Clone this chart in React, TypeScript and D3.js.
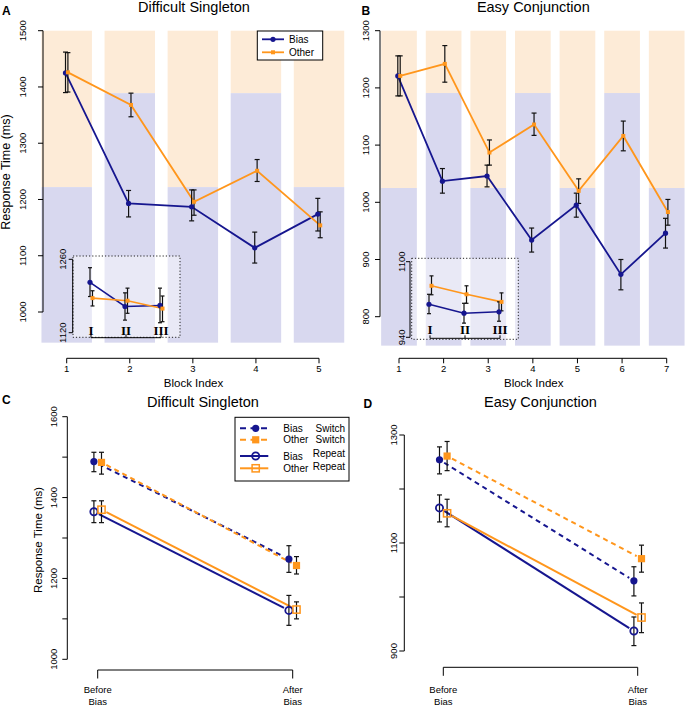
import React from "react";
import * as d3 from "d3";

const FONT = "'Liberation Sans', Arial, Helvetica, sans-serif";
const SERIF = "'Liberation Serif', 'Times New Roman', serif";
const NAVY = "#16168f";
const ORANGE = "#ff961c";
const BAND_O = "#fdebd7";
const BAND_B = "#d8d8ef";

// ---------- Panel A (Difficult Singleton, by block) ----------
const blocksA = [1, 2, 3, 4, 5];
const biasA = [1425, 1193, 1187, 1114, 1174];
const biasALo = [1390, 1169, 1162, 1087, 1144];
const biasAHi = [1462, 1216, 1217, 1142, 1202];
const otherA = [1426, 1368, 1196, 1251, 1154];
const otherALo = [1391, 1347, 1172, 1232, 1132];
const otherAHi = [1461, 1389, 1217, 1271, 1178];
const splitA = [1222, 1389, 1222, 1389, 1222];
const yTicksA = [1000, 1100, 1200, 1300, 1400, 1500];

// ---------- Panel B (Easy Conjunction, by block) ----------
const blocksB = [1, 2, 3, 4, 5, 6, 7];
const biasB = [1221, 1037, 1046, 934, 995, 874, 946];
const biasBLo = [1186, 1016, 1027, 913, 974, 847, 920];
const biasBHi = [1256, 1059, 1065, 955, 1016, 900, 972];
const otherB = [1221, 1242, 1087, 1136, 1020, 1116, 983];
const otherBLo = [1186, 1210, 1065, 1117, 998, 1090, 960];
const otherBHi = [1256, 1274, 1109, 1156, 1041, 1142, 1005];
const splitB = [1025, 1191, 1025, 1191, 1025, 1191, 1025];
const yTicksB = [800, 900, 1000, 1100, 1200, 1300];

// ---------- Insets ----------
const phases = ["I", "II", "III"];
const insetBiasA = [1216, 1170, 1172];
const insetBiasALo = [1189, 1144, 1139];
const insetBiasAHi = [1244, 1196, 1205];
const insetOtherA = [1186, 1181, 1166];
const insetOtherALo = [1171, 1157, 1141];
const insetOtherAHi = [1200, 1205, 1190];
const insetTicksA = [1120, 1260];
const insetBiasB = [1010, 991, 994];
const insetBiasBLo = [990, 970, 974];
const insetBiasBHi = [1031, 1012, 1015];
const insetOtherB = [1049, 1031, 1015];
const insetOtherBLo = [1030, 1012, 996];
const insetOtherBHi = [1070, 1049, 1034];
const insetTicksB = [940, 1100];

// ---------- Panels C / D ----------
const periods = ["Before", "After"];
const biasSwitchC = [1489, 1248];
const biasSwitchCLo = [1464, 1215];
const biasSwitchCHi = [1512, 1281];
const otherSwitchC = [1487, 1232];
const otherSwitchCLo = [1458, 1211];
const otherSwitchCHi = [1512, 1254];
const biasRepeatC = [1365, 1121];
const biasRepeatCLo = [1338, 1084];
const biasRepeatCHi = [1392, 1158];
const otherRepeatC = [1370, 1123];
const otherRepeatCLo = [1338, 1100];
const otherRepeatCHi = [1392, 1142];
const yTicksC = [1000, 1100, 1200, 1300, 1400, 1500, 1600];

const biasSwitchD = [1254, 1030];
const biasSwitchDLo = [1228, 1002];
const biasSwitchDHi = [1278, 1056];
const otherSwitchD = [1261, 1071];
const otherSwitchDLo = [1234, 1046];
const otherSwitchDHi = [1288, 1096];
const biasRepeatD = [1165, 937];
const biasRepeatDLo = [1139, 910];
const biasRepeatDHi = [1189, 963];
const otherRepeatD = [1155, 962];
const otherRepeatDLo = [1130, 934];
const otherRepeatDHi = [1181, 989];
const yTicksD = [900, 1000, 1100, 1200, 1300];

function ErrBar({ x, y1, y2, cap = 2.5 }: any) {
  return (
    <g stroke="#111" strokeWidth={1.2}>
      <line x1={x} x2={x} y1={y1} y2={y2} />
      <line x1={x - cap} x2={x + cap} y1={y1} y2={y1} />
      <line x1={x - cap} x2={x + cap} y1={y2} y2={y2} />
    </g>
  );
}

function Marker({ kind, x, y, color, s = 1 }: any) {
  if (kind === "dot") return <circle cx={x} cy={y} r={2.6 * s} fill={color} />;
  if (kind === "sq") return <rect x={x - 2 * s} y={y - 2 * s} width={4 * s} height={4 * s} fill={color} />;
  if (kind === "fcircle") return <circle cx={x} cy={y} r={3.6} fill={color} />;
  if (kind === "fsquare") return <rect x={x - 3.6} y={y - 3.6} width={7.2} height={7.2} fill={color} />;
  if (kind === "ocircle") return <circle cx={x} cy={y} r={3.6} fill="none" stroke={color} strokeWidth={1.8} />;
  if (kind === "osquare") return <rect x={x - 3.6} y={y - 3.6} width={7.2} height={7.2} fill="none" stroke={color} strokeWidth={1.5} />;
  return null;
}

function BlockPanel(p: any) {
  const { xs, ys, blocks, bias, biasLo, biasHi, other, otherLo, otherHi, split, bandLow, yTicks, axisX, labelX, dodge } = p;
  const half = (xs(2) - xs(1)) * 0.4;
  const top = ys(yTicks[yTicks.length - 1]);
  const bot = ys(bandLow);
  const line = d3.line<number>();
  const biasPts = blocks.map((b: number, i: number) => [xs(b) - dodge, ys(bias[i])] as [number, number]);
  const otherPts = blocks.map((b: number, i: number) => [xs(b) + dodge, ys(other[i])] as [number, number]);
  const axisY = 358.3;
  return (
    <g>
      {blocks.map((b: number, i: number) => (
        <g key={b}>
          <rect x={xs(b) - half} width={2 * half} y={top} height={ys(split[i]) - top} fill={BAND_O} />
          <rect x={xs(b) - half} width={2 * half} y={ys(split[i])} height={bot - ys(split[i])} fill={BAND_B} />
        </g>
      ))}
      <line x1={axisX} x2={axisX} y1={ys(yTicks[0])} y2={top} stroke="#000" strokeWidth={1} />
      {yTicks.map((t: number) => (
        <g key={t}>
          <line x1={axisX - 5} x2={axisX} y1={ys(t)} y2={ys(t)} stroke="#000" />
          <text transform={`translate(${labelX},${ys(t)}) rotate(-90)`} textAnchor="middle" dominantBaseline="central" fontSize={9.5} fontFamily={FONT}>{t}</text>
        </g>
      ))}
      <line x1={xs(blocks[0])} x2={xs(blocks[blocks.length - 1])} y1={axisY} y2={axisY} stroke="#000" />
      {blocks.map((b: number) => (
        <g key={b}>
          <line x1={xs(b)} x2={xs(b)} y1={axisY} y2={axisY + 5} stroke="#000" />
          <text x={xs(b)} y={371.8} textAnchor="middle" fontSize={9.5} fontFamily={FONT}>{b}</text>
        </g>
      ))}
      <path d={line(biasPts) || ""} fill="none" stroke={NAVY} strokeWidth={1.8} />
      <path d={line(otherPts) || ""} fill="none" stroke={ORANGE} strokeWidth={1.8} />
      {blocks.map((b: number, i: number) => (
        <g key={b}>
          <ErrBar x={xs(b) - dodge} y1={ys(biasLo[i])} y2={ys(biasHi[i])} />
          <ErrBar x={xs(b) + dodge} y1={ys(otherLo[i])} y2={ys(otherHi[i])} />
        </g>
      ))}
      {biasPts.map((pt: any, i: number) => <Marker key={"b" + i} kind="dot" x={pt[0]} y={pt[1]} color={NAVY} />)}
      {otherPts.map((pt: any, i: number) => <Marker key={"o" + i} kind="sq" x={pt[0]} y={pt[1]} color={ORANGE} />)}
    </g>
  );
}

function Inset(p: any) {
  const { box, xi, yi, ticks, bias, biasLo, biasHi, other, otherLo, otherHi, axisX, labelX, baseY, labelY } = p;
  const line = d3.line<number>();
  const biasPts = phases.map((ph, i) => [(xi(ph) as number) - 1, yi(bias[i])] as [number, number]);
  const otherPts = phases.map((ph, i) => [(xi(ph) as number) + 1.5, yi(other[i])] as [number, number]);
  return (
    <g>
      <rect x={box[0]} y={box[1]} width={box[2] - box[0]} height={box[3] - box[1]} fill="#fff" fillOpacity={0.45} stroke="#222" strokeWidth={1} strokeDasharray="1.2,2" />
      <line x1={axisX} x2={axisX} y1={yi(ticks[0])} y2={yi(ticks[1])} stroke="#000" />
      {ticks.map((t: number) => (
        <g key={t}>
          <line x1={axisX - 4} x2={axisX} y1={yi(t)} y2={yi(t)} stroke="#000" />
          <text transform={`translate(${labelX},${yi(t)}) rotate(-90)`} textAnchor="middle" dominantBaseline="central" fontSize={9.5} fontFamily={FONT}>{t}</text>
        </g>
      ))}
      <line x1={xi("I")} x2={xi("III")} y1={baseY} y2={baseY} stroke="#000" />
      {phases.map((ph) => (
        <g key={ph}>
          <line x1={xi(ph)} x2={xi(ph)} y1={baseY} y2={baseY - 3} stroke="#000" />
          <text x={xi(ph)} y={labelY} textAnchor="middle" fontSize={13} fontWeight="bold" fontFamily={SERIF}>{ph}</text>
        </g>
      ))}
      <path d={line(biasPts) || ""} fill="none" stroke={NAVY} strokeWidth={1.6} />
      <path d={line(otherPts) || ""} fill="none" stroke={ORANGE} strokeWidth={1.6} />
      {phases.map((ph, i) => (
        <g key={ph}>
          <ErrBar x={biasPts[i][0]} y1={yi(biasLo[i])} y2={yi(biasHi[i])} cap={2} />
          <ErrBar x={otherPts[i][0]} y1={yi(otherLo[i])} y2={yi(otherHi[i])} cap={2} />
        </g>
      ))}
      {biasPts.map((pt, i) => <Marker key={"b" + i} kind="dot" x={pt[0]} y={pt[1]} color={NAVY} />)}
      {otherPts.map((pt, i) => <Marker key={"o" + i} kind="sq" x={pt[0]} y={pt[1]} color={ORANGE} />)}
    </g>
  );
}

function shrink(a: [number, number], b: [number, number], g: number) {
  const dx = b[0] - a[0], dy = b[1] - a[1];
  const L = Math.hypot(dx, dy);
  const ux = dx / L, uy = dy / L;
  return { x1: a[0] + ux * g, y1: a[1] + uy * g, x2: b[0] - ux * g, y2: b[1] - uy * g };
}

function PeriodPanel(p: any) {
  const { xp, ys, yTicks, labeled, axisX, labelX, series, bracketY } = p;
  return (
    <g>
      <line x1={axisX} x2={axisX} y1={ys(yTicks[0])} y2={ys(yTicks[yTicks.length - 1])} stroke="#000" />
      {yTicks.map((t: number) => (
        <g key={t}>
          <line x1={axisX - 5} x2={axisX} y1={ys(t)} y2={ys(t)} stroke="#000" />
          {labeled.includes(t) && (
            <text transform={`translate(${labelX},${ys(t)}) rotate(-90)`} textAnchor="middle" dominantBaseline="central" fontSize={9.5} fontFamily={FONT}>{t}</text>
          )}
        </g>
      ))}
      <line x1={xp(periods[0])} x2={xp(periods[1])} y1={bracketY} y2={bracketY} stroke="#000" />
      {periods.map((pr) => (
        <g key={pr}>
          <line x1={xp(pr)} x2={xp(pr)} y1={bracketY} y2={bracketY + 8.5} stroke="#000" />
          <text x={xp(pr)} y={693} textAnchor="middle" fontSize={9.5} fontFamily={FONT}>{pr}</text>
          <text x={xp(pr)} y={704.5} textAnchor="middle" fontSize={9.5} fontFamily={FONT}>Bias</text>
        </g>
      ))}
      {series.map((s: any, k: number) => {
        const pts = periods.map((pr, i) => [(xp(pr) as number) + s.dodge, ys(s.v[i])] as [number, number]);
        const seg = shrink(pts[0], pts[1], 5.5);
        return (
          <g key={k}>
            <line {...seg} stroke={s.color} strokeWidth={2} strokeDasharray={s.dash ? "5,4" : undefined} />
          </g>
        );
      })}
      {series.map((s: any, k: number) => (
        <g key={"e" + k}>
          {periods.map((pr, i) => (
            <ErrBar key={pr} x={(xp(pr) as number) + s.dodge} y1={ys(s.lo[i])} y2={ys(s.hi[i])} cap={2.5} />
          ))}
        </g>
      ))}
      {series.map((s: any, k: number) => (
        <g key={"m" + k}>
          {periods.map((pr, i) => (
            <Marker key={pr} kind={s.marker} x={(xp(pr) as number) + s.dodge} y={ys(s.v[i])} color={s.color} />
          ))}
        </g>
      ))}
    </g>
  );
}

export default function App() {
  const xsA = d3.scaleLinear().domain([1, 5]).range([66.7, 319]);
  const ysA = d3.scaleLinear().domain([1000, 1500]).range([312, 30.7]);
  const xsB = d3.scaleLinear().domain([1, 7]).range([399, 666.7]);
  const ysB = d3.scaleLinear().domain([800, 1300]).range([316.7, 30.7]);

  const xiA = d3.scalePoint<string>().domain(phases).range([91, 161]);
  const yiA = d3.scaleLinear().domain([1120, 1260]).range([332.7, 259.3]);
  const xiB = d3.scalePoint<string>().domain(phases).range([430, 500]);
  const yiB = d3.scaleLinear().domain([940, 1100]).range([337.3, 261.7]);

  const xpC = d3.scalePoint<string>().domain(periods).range([97.7, 292.7]);
  const ysC = d3.scaleLinear().domain([1000, 1600]).range([659.3, 416.7]);
  const xpD = d3.scalePoint<string>().domain(periods).range([443.3, 637.7]);
  const ysD = d3.scaleLinear().domain([900, 1300]).range([651, 435]);

  const seriesC = [
    { v: biasSwitchC, lo: biasSwitchCLo, hi: biasSwitchCHi, color: NAVY, dash: true, marker: "fcircle", dodge: -3.8 },
    { v: otherSwitchC, lo: otherSwitchCLo, hi: otherSwitchCHi, color: ORANGE, dash: true, marker: "fsquare", dodge: 3.8 },
    { v: biasRepeatC, lo: biasRepeatCLo, hi: biasRepeatCHi, color: NAVY, dash: false, marker: "ocircle", dodge: -3.8 },
    { v: otherRepeatC, lo: otherRepeatCLo, hi: otherRepeatCHi, color: ORANGE, dash: false, marker: "osquare", dodge: 3.8 },
  ];
  const seriesD = [
    { v: biasSwitchD, lo: biasSwitchDLo, hi: biasSwitchDHi, color: NAVY, dash: true, marker: "fcircle", dodge: -3.8 },
    { v: otherSwitchD, lo: otherSwitchDLo, hi: otherSwitchDHi, color: ORANGE, dash: true, marker: "fsquare", dodge: 3.8 },
    { v: biasRepeatD, lo: biasRepeatDLo, hi: biasRepeatDHi, color: NAVY, dash: false, marker: "ocircle", dodge: -3.8 },
    { v: otherRepeatD, lo: otherRepeatDLo, hi: otherRepeatDHi, color: ORANGE, dash: false, marker: "osquare", dodge: 3.8 },
  ];

  const legendC = [
    { a: "Bias", b: "Switch", color: NAVY, dash: true, marker: "fcircle", y: 428.3, by: 428.3 },
    { a: "Other", b: "Switch", color: ORANGE, dash: true, marker: "fsquare", y: 439.8, by: 439.8 },
    { a: "Bias", b: "Repeat", color: NAVY, dash: false, marker: "ocircle", y: 456, by: 453.8 },
    { a: "Other", b: "Repeat", color: ORANGE, dash: false, marker: "osquare", y: 468.3, by: 466 },
  ];

  return (
    <svg width={685} height={705} style={{ position: "absolute", left: 0, top: 0, background: "#fff" }} fontFamily={FONT}>
      <rect width={685} height={705} fill="#fff" />
      {/* Panel A */}
      <BlockPanel xs={xsA} ys={ysA} blocks={blocksA} bias={biasA} biasLo={biasALo} biasHi={biasAHi}
        other={otherA} otherLo={otherALo} otherHi={otherAHi} split={splitA} bandLow={945.5}
        yTicks={yTicksA} axisX={43} labelX={22} dodge={1.2} />
      <Inset box={[73, 256, 180, 337.3]} xi={xiA} yi={yiA} ticks={insetTicksA}
        bias={insetBiasA} biasLo={insetBiasALo} biasHi={insetBiasAHi}
        other={insetOtherA} otherLo={insetOtherALo} otherHi={insetOtherAHi}
        axisX={72.7} labelX={62} baseY={337.7} labelY={335} />
      <g>
        <rect x={257.3} y={31} width={65.4} height={29} fill="#fff" stroke="#000" strokeWidth={1} />
        <line x1={262} x2={284} y1={39.3} y2={39.3} stroke={NAVY} strokeWidth={1.8} />
        <Marker kind="dot" x={273} y={39.3} color={NAVY} />
        <text x={289} y={42.8} fontSize={10}>Bias</text>
        <line x1={262} x2={284} y1={52.3} y2={52.3} stroke={ORANGE} strokeWidth={1.8} />
        <Marker kind="sq" x={273} y={52.3} color={ORANGE} />
        <text x={289} y={55.8} fontSize={10}>Other</text>
      </g>
      <text x={2} y={15} fontSize={12} fontWeight="bold">A</text>
      <text x={194} y={12} textAnchor="middle" fontSize={14.5}>Difficult Singleton</text>
      <text transform="translate(6,172) rotate(-90)" textAnchor="middle" dominantBaseline="central" fontSize={12.5}>Response Time (ms)</text>
      <text x={193.5} y={387} textAnchor="middle" fontSize={11.5}>Block Index</text>

      {/* Panel B */}
      <BlockPanel xs={xsB} ys={ysB} blocks={blocksB} bias={biasB} biasLo={biasBLo} biasHi={biasBHi}
        other={otherB} otherLo={otherBLo} otherHi={otherBHi} split={splitB} bandLow={749.4}
        yTicks={yTicksB} axisX={380} labelX={365.3} dodge={1.2} />
      <Inset box={[411.7, 258.3, 518.3, 339.3]} xi={xiB} yi={yiB} ticks={insetTicksB}
        bias={insetBiasB} biasLo={insetBiasBLo} biasHi={insetBiasBHi}
        other={insetOtherB} otherLo={insetOtherBLo} otherHi={insetOtherBHi}
        axisX={410} labelX={401} baseY={338.3} labelY={334} />
      <text x={361.5} y={15} fontSize={12} fontWeight="bold">B</text>
      <text x={533.3} y={12} textAnchor="middle" fontSize={14.5}>Easy Conjunction</text>
      <text x={533.7} y={387} textAnchor="middle" fontSize={11.5}>Block Index</text>

      {/* Panel C */}
      <PeriodPanel xp={xpC} ys={ysC} yTicks={yTicksC} labeled={[1000, 1200, 1400, 1600]} axisX={67.3} labelX={53.3}
        series={seriesC} bracketY={670} />
      <text x={2} y={403.5} fontSize={12} fontWeight="bold">C</text>
      <text x={203} y={407} textAnchor="middle" fontSize={14.5}>Difficult Singleton</text>
      <text transform="translate(38.3,540) rotate(-90)" textAnchor="middle" dominantBaseline="central" fontSize={11.5}>Response Time (ms)</text>
      <g>
        <rect x={235} y={417.3} width={114} height={63.7} fill="#fff" stroke="#000" strokeWidth={1} />
        {legendC.map((l, i) => (
          <g key={i}>
            <line x1={240} x2={268.3} y1={l.y} y2={l.y} stroke={l.color} strokeWidth={2} strokeDasharray={l.dash ? "6,4.5" : undefined} />
            <Marker kind={l.marker} x={255.7} y={l.y} color={l.color} />
            <text x={283.3} y={l.y + 3.6} fontSize={10}>{l.a}</text>
            <text x={345} y={l.by + 3.6} fontSize={10} textAnchor="end">{l.b}</text>
          </g>
        ))}
      </g>

      {/* Panel D */}
      <PeriodPanel xp={xpD} ys={ysD} yTicks={yTicksD} labeled={[900, 1100, 1300]} axisX={404.3} labelX={393.5}
        series={seriesD} bracketY={667.3} />
      <text x={363.5} y={408} fontSize={12} fontWeight="bold">D</text>
      <text x={540.5} y={407} textAnchor="middle" fontSize={14.5}>Easy Conjunction</text>
    </svg>
  );
}
